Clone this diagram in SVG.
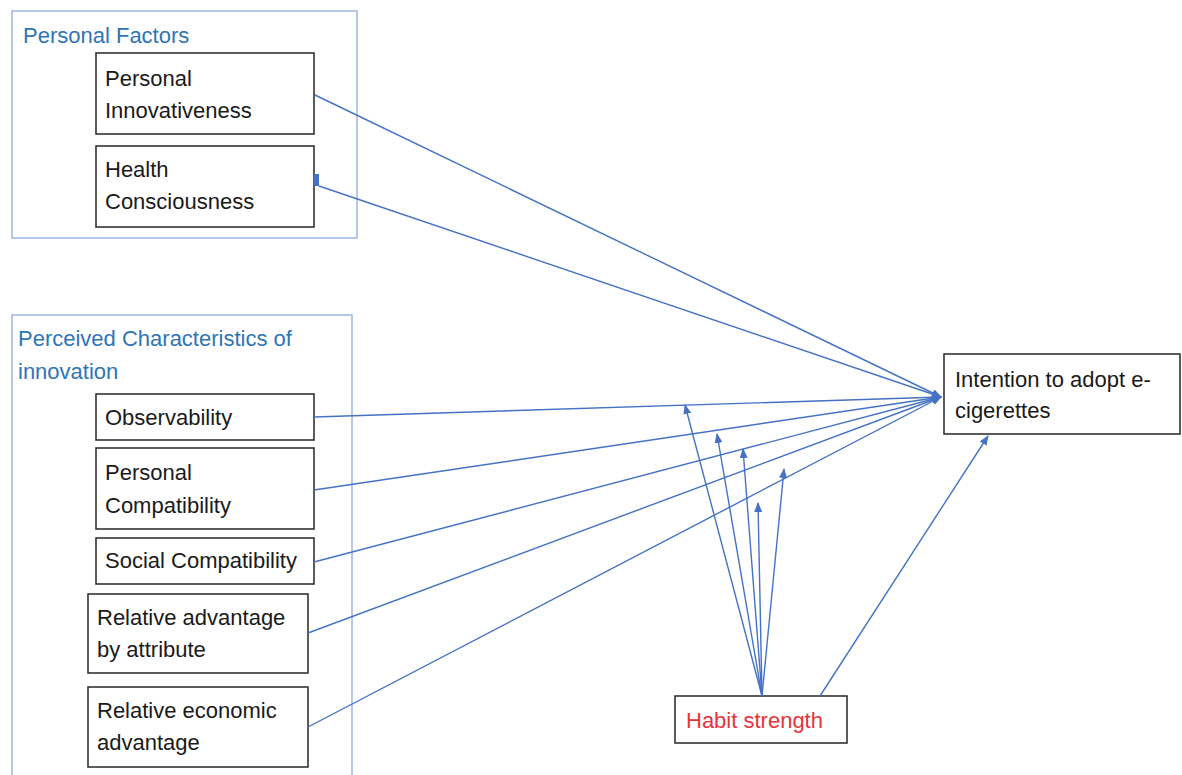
<svg xmlns="http://www.w3.org/2000/svg" width="1182" height="775" viewBox="0 0 1182 775">
<style>
.grp{fill:none;stroke:#8faadc;stroke-width:1.3}
.node{fill:#fff;stroke:#333;stroke-width:1.6}
.t{font-family:"Liberation Sans",Arial,sans-serif;font-size:22px;fill:#1a1a1a}
.title{font-family:"Liberation Sans",Arial,sans-serif;font-size:22px;fill:#2e75b6}
.red{fill:#e8333a}
.c{stroke:#4472c4;stroke-width:1.4;fill:none;marker-end:url(#ah)}
</style>
<defs>
<marker id="ah" markerWidth="10" markerHeight="8" refX="9" refY="4" orient="auto" markerUnits="userSpaceOnUse">
<path d="M0,0 L10,4 L0,8 Z" fill="#4472c4"/>
</marker>
</defs>
<rect width="1182" height="775" fill="#fff"/>
<g id="personal-factors">
<rect class="grp" x="12" y="11" width="345" height="227"/>
<text class="title" x="23" y="43">Personal Factors</text>
</g>
<g id="perceived-characteristics">
<rect class="grp" x="12" y="315" width="340" height="470"/>
<text class="title" x="18" y="346">Perceived Characteristics of</text>
<text class="title" x="18" y="379">innovation</text>
</g>
<g id="personal-innovativeness">
<rect class="node" x="96" y="53" width="218" height="81"/>
<text class="t" x="105" y="86">Personal</text>
<text class="t" x="105" y="118">Innovativeness</text>
</g>
<g id="health-consciousness">
<rect class="node" x="96" y="146" width="218" height="81"/>
<text class="t" x="105" y="177">Health</text>
<text class="t" x="105" y="209">Consciousness</text>
<rect x="314" y="174" width="5" height="12" fill="#4472c4"/>
</g>
<g id="observability">
<rect class="node" x="96" y="394" width="218" height="46"/>
<text class="t" x="105" y="425">Observability</text>
</g>
<g id="personal-compatibility">
<rect class="node" x="96" y="448" width="218" height="81"/>
<text class="t" x="105" y="480">Personal</text>
<text class="t" x="105" y="513">Compatibility</text>
</g>
<g id="social-compatibility">
<rect class="node" x="96" y="538" width="218" height="46"/>
<text class="t" x="105" y="568">Social Compatibility</text>
</g>
<g id="relative-advantage-attribute">
<rect class="node" x="88" y="594" width="220" height="79"/>
<text class="t" x="97" y="625">Relative advantage</text>
<text class="t" x="97" y="657">by attribute</text>
</g>
<g id="relative-economic-advantage">
<rect class="node" x="88" y="687" width="220" height="80"/>
<text class="t" x="97" y="718">Relative economic</text>
<text class="t" x="97" y="750">advantage</text>
</g>
<g id="intention">
<rect class="node" x="944" y="354" width="236" height="80"/>
<text class="t" x="955" y="387">Intention to adopt e-</text>
<text class="t" x="955" y="418">cigerettes</text>
</g>
<g id="habit-strength">
<rect class="node" x="675" y="696" width="172" height="47"/>
<text class="t red" x="686" y="728">Habit strength</text>
</g>
<g id="connectors">
<line class="c" x1="315" y1="95" x2="941" y2="397"/>
<line class="c" x1="319" y1="186" x2="941" y2="397"/>
<line class="c" x1="314" y1="417" x2="941" y2="397"/>
<line class="c" x1="314" y1="490" x2="941" y2="397"/>
<line class="c" x1="314" y1="562" x2="941" y2="397"/>
<line class="c" x1="308" y1="633" x2="941" y2="397"/>
<line class="c" x1="308" y1="727" x2="941" y2="397"/>
<line class="c" x1="762" y1="696" x2="685" y2="405"/>
<line class="c" x1="762" y1="696" x2="717" y2="434"/>
<line class="c" x1="762" y1="696" x2="743" y2="449"/>
<line class="c" x1="762" y1="696" x2="758" y2="503"/>
<line class="c" x1="762" y1="696" x2="784" y2="469"/>
<line class="c" x1="820" y1="696" x2="988" y2="436"/>
</g>
</svg>
